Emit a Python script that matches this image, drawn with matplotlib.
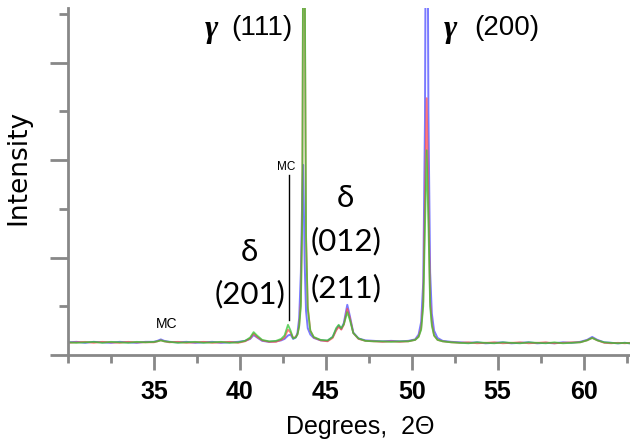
import numpy as np
import matplotlib.pyplot as plt
from matplotlib.ticker import MultipleLocator

# XRD pattern (intensity in arbitrary units)
two_theta = [
    30.0, 30.5, 31.0, 31.5, 32.0, 32.5, 33.0, 33.5, 34.0, 34.5,
    35.0, 35.2, 35.4, 35.6, 35.9, 36.4, 36.9, 37.4, 37.9, 38.4,
    38.9, 39.4, 39.9, 40.3, 40.6, 40.8, 41.0, 41.3, 41.7, 42.1,
    42.4, 42.6, 42.8, 42.95, 43.1, 43.25, 43.35, 43.45, 43.55, 43.63,
    43.68, 43.72, 43.77, 43.85, 43.95, 44.1, 44.3, 44.7, 45.1, 45.4,
    45.6, 45.75, 45.9, 46.05, 46.25, 46.4, 46.6, 46.9, 47.3, 47.8,
    48.3, 48.8, 49.3, 49.8, 50.2, 50.4, 50.55, 50.67, 50.77, 50.87,
    50.97, 51.07, 51.17, 51.3, 51.5, 51.8, 52.3, 52.8, 53.3, 53.8,
    54.3, 54.8, 55.3, 55.8, 56.3, 56.8, 57.3, 57.8, 58.3, 58.8,
    59.3, 59.8, 60.2, 60.5, 60.8, 61.2, 61.6, 62.0, 62.4, 62.7,
]
blue = [
    .26, .27, .25, .27, .26, .25, .27, .26, .25, .27,
    .27, .29, .32, .29, .27, .26, .27, .25, .26, .27,
    .25, .26, .27, .29, .33, .41, .36, .29, .27, .28,
    .30, .33, .40, .42, .33, .36, .45, .75, 1.7, 3.3,
    3.9, 3.1, 1.9, .9, .55, .42, .35, .30, .29, .37,
    .52, .60, .53, .66, 1.03, .80, .46, .34, .30, .29,
    .28, .29, .28, .29, .32, .42, .68, 1.5, 4.8, 14.0,
    5.0, 1.7, .85, .50, .35, .29, .27, .26, .25, .26,
    .24, .25, .26, .24, .25, .26, .24, .25, .24, .26,
    .25, .27, .31, .37, .31, .26, .25, .24, .25, .24,
]
red = [
    .25, .26, .27, .25, .27, .26, .25, .27, .26, .26,
    .26, .28, .30, .28, .26, .27, .25, .26, .27, .25,
    .26, .27, .25, .28, .34, .44, .37, .30, .27, .27,
    .31, .36, .52, .46, .35, .37, .42, .60, 1.1, 3.0,
    8.0, 16.0, 8.0, 2.5, 1.0, .50, .36, .30, .28, .35,
    .50, .58, .52, .62, .95, .76, .45, .33, .29, .28,
    .27, .28, .27, .28, .31, .38, .55, 1.1, 3.2, 5.27,
    3.2, 1.1, .65, .40, .31, .28, .26, .25, .26, .24,
    .25, .26, .24, .25, .26, .24, .25, .26, .24, .25,
    .26, .26, .30, .35, .30, .25, .24, .25, .24, .25,
]
green = [
    .26, .25, .26, .27, .25, .27, .26, .25, .27, .26,
    .27, .28, .30, .28, .27, .25, .26, .27, .25, .26,
    .27, .25, .26, .29, .36, .47, .40, .31, .28, .29,
    .33, .40, .62, .50, .34, .36, .42, .58, 1.0, 2.8,
    8.5, 16.0, 8.5, 2.4, .95, .50, .37, .31, .30, .37,
    .55, .62, .55, .63, .88, .72, .45, .34, .29, .28,
    .28, .27, .28, .28, .31, .37, .52, 1.0, 2.6, 4.2,
    2.7, 1.0, .60, .40, .31, .28, .26, .25, .24, .26,
    .25, .24, .26, .25, .24, .26, .25, .24, .26, .24,
    .25, .26, .30, .35, .30, .26, .25, .24, .25, .24,
]
x_ticks = [35, 40, 45, 50, 55, 60]

fig = plt.figure(figsize=(6.3, 4.44), dpi=100)
ax = fig.add_axes([68 / 630, 89 / 444, 1 - 68 / 630, 347 / 444])

ax.plot(two_theta, blue, color='#4d4dff', lw=1.4, alpha=0.75)
ax.plot(two_theta, red, color='#ff4d4d', lw=1.3, alpha=0.75)
ax.plot(two_theta, green, color='#33c433', lw=1.3, alpha=0.75)

ax.set_xlim(30, 62.7)
ax.set_ylim(0, 7.12)
ax.set_xticks(x_ticks)
ax.xaxis.set_minor_locator(MultipleLocator(2.5))
ax.yaxis.set_major_locator(MultipleLocator(2))
ax.yaxis.set_minor_locator(MultipleLocator(1))
ax.set_yticklabels([])
for s in ['top', 'right']:
    ax.spines[s].set_visible(False)
for s in ['left', 'bottom']:
    ax.spines[s].set_color('#888888')
    ax.spines[s].set_linewidth(2)
ax.tick_params(axis='both', which='both', direction='out', color='#888888', width=2)
ax.tick_params(axis='x', which='major', length=11, pad=7)
ax.tick_params(axis='x', which='minor', length=6)
ax.tick_params(axis='y', which='major', length=13)
ax.tick_params(axis='y', which='minor', length=6.5)
for lab in ax.get_xticklabels():
    lab.set_fontfamily('Liberation Sans')
    lab.set_fontsize(18)
    lab.set_fontweight('bold')

# peak labels
gam = dict(family='Liberation Serif', style='italic', weight='bold', fontsize=23,
           ha='center', va='center')
hkl = dict(family='Liberation Sans', fontsize=20, ha='center', va='center')
ax.text(38.37, 6.68, 'γ', **gam)
ax.text(41.28, 6.7, '(111)', **hkl)
ax.text(52.24, 6.68, 'γ', **gam)
ax.text(55.52, 6.7, '(200)', **hkl)

dl = dict(family='Lato', fontsize=22.5, ha='center', va='center')
ax.text(40.58, 2.11, 'δ', **dl)
ax.text(40.58, 1.25, '(201)', **dl)
ax.text(46.16, 3.22, 'δ', **dl)
ax.text(46.16, 2.34, '(012)', **dl)
ax.text(46.16, 1.37, '(211)', **dl)

ax.text(35.76, 0.64, 'MC', family='Liberation Sans', fontsize=10, ha='center', va='center')
ax.text(42.67, 3.86, 'MC', family='Liberation Sans', fontsize=8.5, ha='center', va='center')
ax.plot([42.85, 42.85], [0.72, 3.69], color='black', lw=1)

fig.text(18 / 630, 1 - 167 / 444, 'Intensity', rotation=90, family='DejaVu Sans',
         fontsize=19, ha='center', va='center')
fig.text(360 / 630, 1 - 427 / 444, 'Degrees,  2Θ', family='Liberation Sans',
         fontsize=18, ha='center', va='center')

fig.savefig('out.png', dpi=100)
